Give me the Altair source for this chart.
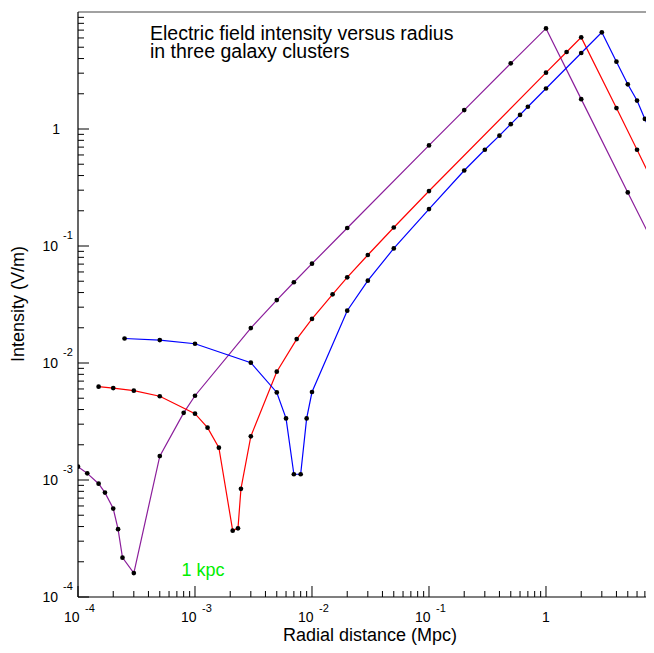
import altair as alt
import pandas as pd

# ---- data ----
purple_x = [1e-4, 1.2e-4, 1.5e-4, 1.7e-4, 2e-4, 2.2e-4, 2.4e-4, 3e-4, 5e-4, 8e-4, 1e-3,
            3e-3, 5e-3, 7e-3, 1e-2, 2e-2, 1e-1, 2e-1, 5e-1, 1, 2, 5, 10]
purple_y = [1.30e-3, 1.14e-3, 9.3e-4, 7.8e-4, 5.7e-4, 3.8e-4, 2.17e-4, 1.6e-4, 1.6e-3, 3.75e-3, 5.25e-3,
            0.0199, 0.0345, 0.049, 0.0706, 0.1425, 0.724, 1.45, 3.64, 7.24, 1.80, 0.287, 0.072]

red_x = [1.5e-4, 2e-4, 3e-4, 5e-4, 1e-3, 1.28e-3, 1.6e-3, 2.1e-3, 2.33e-3, 2.47e-3, 3e-3,
         5e-3, 7.4e-3, 1e-2, 1.5e-2, 2e-2, 3e-2, 5e-2, 1e-1, 1, 1.5, 2, 4, 6, 10]
red_y = [6.27e-3, 6.1e-3, 5.8e-3, 5.2e-3, 3.69e-3, 2.8e-3, 1.89e-3, 3.69e-4, 3.86e-4, 8.4e-4, 2.36e-3,
         8.43e-3, 0.016, 0.0238, 0.0386, 0.054, 0.0838, 0.144, 0.295, 3.03, 4.55, 6.07, 1.51, 0.665, 0.234]

blue_x = [2.5e-4, 5e-4, 1e-3, 3e-3, 5e-3, 6e-3, 7e-3, 8e-3, 9e-3, 1e-2, 2e-2, 3e-2, 5e-2,
          1e-1, 2e-1, 3e-1, 4e-1, 5e-1, 6e-1, 7e-1, 1, 2, 3, 4, 5, 6, 7, 10]
blue_y = [0.0162, 0.0157, 0.0146, 0.01007, 5.6e-3, 3.36e-3, 1.12e-3, 1.12e-3, 3.36e-3, 5.65e-3, 0.028, 0.0505, 0.0954,
          0.207, 0.442, 0.665, 0.877, 1.10, 1.32, 1.55, 2.22, 4.46, 6.7, 3.76, 2.41, 1.75, 1.22, 0.56]

series_names = ["purple", "red", "blue"]
series_colors = ["#8b1e9b", "#ff0000", "#0000ff"]

x_decades = [1e-4, 1e-3, 1e-2, 1e-1]
x_exps = ["-4", "-3", "-2", "-1"]
y_decades = [1e-4, 1e-3, 1e-2, 1e-1]
y_exps = ["-4", "-3", "-2", "-1"]
unit_label = [1]

X_MAX = 7.157   # visible right edge of the (cropped) x axis
x_major = [1e-4, 1e-3, 1e-2, 1e-1, 1]
y_major = [1e-4, 1e-3, 1e-2, 1e-1, 1]
x_minor = [k * d for d in [1e-4, 1e-3, 1e-2, 1e-1, 1] for k in range(2, 10) if k * d < X_MAX]
y_minor = [k * d for d in [1e-4, 1e-3, 1e-2, 1e-1, 1] for k in range(2, 10)]

title_text = "Electric field intensity versus radius\nin three galaxy clusters"
x_title = "Radial distance (Mpc)"
y_title = "Intensity (V/m)"
note_text = "1 kpc"

# ---- build tables ----
rows = []
for name, xs, ys in [("purple", purple_x, purple_y), ("red", red_x, red_y), ("blue", blue_x, blue_y)]:
    for i, (xv, yv) in enumerate(zip(xs, ys)):
        rows.append({"series": name, "r": xv, "E": yv, "i": i})
df = pd.DataFrame(rows)

FONT = "Liberation Sans"
W, H = 568, 585
xscale = alt.Scale(type="log", domain=[1e-4, X_MAX], nice=False, zero=False)
yscale = alt.Scale(type="log", domain=[1e-4, 10], nice=False, zero=False)

grid_kw = dict(grid=True, gridDash=[1, 2], gridColor="#000000", gridOpacity=0.75, gridWidth=1,
               labels=False, ticks=False, domain=False, title=None)

base = alt.Chart(df)
lines = base.mark_line(strokeWidth=1.2, clip=True).encode(
    x=alt.X("r:Q", scale=xscale, axis=alt.Axis(values=x_major, **grid_kw)),
    y=alt.Y("E:Q", scale=yscale, axis=alt.Axis(values=y_major, **grid_kw)),
    color=alt.Color("series:N", scale=alt.Scale(domain=series_names, range=series_colors), legend=None),
    order="i:Q",
    detail="series:N",
)
points = base.mark_circle(size=22, color="black", opacity=1, clip=True).encode(
    x=alt.X("r:Q", scale=xscale, axis=None),
    y=alt.Y("E:Q", scale=yscale, axis=None),
)

# frame (top, left, bottom; the right side is cropped off in the reference)
single = pd.DataFrame({"t": [0]})
frame_top = alt.Chart(single).mark_rule(color="#444444", strokeWidth=1.2).encode(
    x=alt.value(0), x2=alt.value(W), y=alt.value(0))
frame_left = alt.Chart(single).mark_rule(color="black", strokeWidth=1.2).encode(
    x=alt.value(0), y=alt.value(0), y2=alt.value(H))
frame_bottom = alt.Chart(single).mark_rule(color="black", strokeWidth=1.2).encode(
    x=alt.value(0), x2=alt.value(W), y=alt.value(H))

# ticks (inward, ROOT style)
xmaj = alt.Chart(pd.DataFrame({"v": x_major})).mark_rule(color="black").encode(
    x=alt.X("v:Q", scale=xscale, axis=None), y=alt.value(H), y2=alt.value(H - 11))
xmin = alt.Chart(pd.DataFrame({"v": x_minor})).mark_rule(color="black").encode(
    x=alt.X("v:Q", scale=xscale, axis=None), y=alt.value(H), y2=alt.value(H - 6))
ymaj = alt.Chart(pd.DataFrame({"v": y_major})).mark_rule(color="black").encode(
    y=alt.Y("v:Q", scale=yscale, axis=None), x=alt.value(0), x2=alt.value(11))
ymin = alt.Chart(pd.DataFrame({"v": y_minor})).mark_rule(color="black").encode(
    y=alt.Y("v:Q", scale=yscale, axis=None), x=alt.value(0), x2=alt.value(6))

# tick labels
xl = pd.DataFrame({"v": x_decades, "e": x_exps})
yl = pd.DataFrame({"v": y_decades, "e": y_exps})
one = pd.DataFrame({"v": unit_label})

x_base = alt.Chart(xl).mark_text(font=FONT, fontSize=14, align="right", baseline="alphabetic", dx=1.5, dy=25,
                                 color="black").encode(
    x=alt.X("v:Q", scale=xscale, axis=None), y=alt.value(H), text=alt.value("10"))
x_exp = alt.Chart(xl).mark_text(font=FONT, fontSize=11, align="left", baseline="alphabetic", dx=7, dy=15,
                                color="black").encode(
    x=alt.X("v:Q", scale=xscale, axis=None), y=alt.value(H), text="e:N")
x_one = alt.Chart(one).mark_text(font=FONT, fontSize=14, align="center", baseline="alphabetic", dy=25,
                                 color="black").encode(
    x=alt.X("v:Q", scale=xscale, axis=None), y=alt.value(H), text=alt.value("1"))

y_base = alt.Chart(yl).mark_text(font=FONT, fontSize=14, align="right", baseline="alphabetic", dx=-20, dy=5,
                                 color="black").encode(
    y=alt.Y("v:Q", scale=yscale, axis=None), x=alt.value(0), text=alt.value("10"))
y_exp = alt.Chart(yl).mark_text(font=FONT, fontSize=11, align="left", baseline="alphabetic", dx=-15, dy=-7,
                                color="black").encode(
    y=alt.Y("v:Q", scale=yscale, axis=None), x=alt.value(0), text="e:N")
y_one = alt.Chart(one).mark_text(font=FONT, fontSize=14, align="right", baseline="alphabetic", dx=-18, dy=5,
                                 color="black").encode(
    y=alt.Y("v:Q", scale=yscale, axis=None), x=alt.value(0), text=alt.value("1"))

# titles and annotations
xt = alt.Chart(single).mark_text(font=FONT, fontSize=18, align="center", baseline="alphabetic",
                                 color="black").encode(
    x=alt.value(292), y=alt.value(629), text=alt.value(x_title))
yt = alt.Chart(single).mark_text(font=FONT, fontSize=18, align="center", baseline="middle", angle=270,
                                 color="black").encode(
    x=alt.value(-59), y=alt.value(292), text=alt.value(y_title))
tt = alt.Chart(single).mark_text(font=FONT, fontSize=19.5, align="left", baseline="alphabetic",
                                 lineBreak="\n", lineHeight=17.5, color="black").encode(
    x=alt.value(72), y=alt.value(28), text=alt.value(title_text))
kpc = alt.Chart(single).mark_text(font=FONT, fontSize=18, align="left", baseline="alphabetic",
                                  color="#00ee00").encode(
    x=alt.value(103.5), y=alt.value(564), text=alt.value(note_text))

chart = alt.layer(
    lines, points, frame_top, frame_left, frame_bottom, xmaj, xmin, ymaj, ymin,
    x_base, x_exp, x_one, y_base, y_exp, y_one,
    xt, yt, tt, kpc,
).properties(
    width=W, height=H,
    autosize=alt.AutoSizeParams(type="none"),
    padding={"left": 70, "top": 4, "right": 0, "bottom": 48},
    background="white",
).configure_view(stroke=None)

chart.save("out.html", embed_options={"renderer": "svg", "actions": False})
